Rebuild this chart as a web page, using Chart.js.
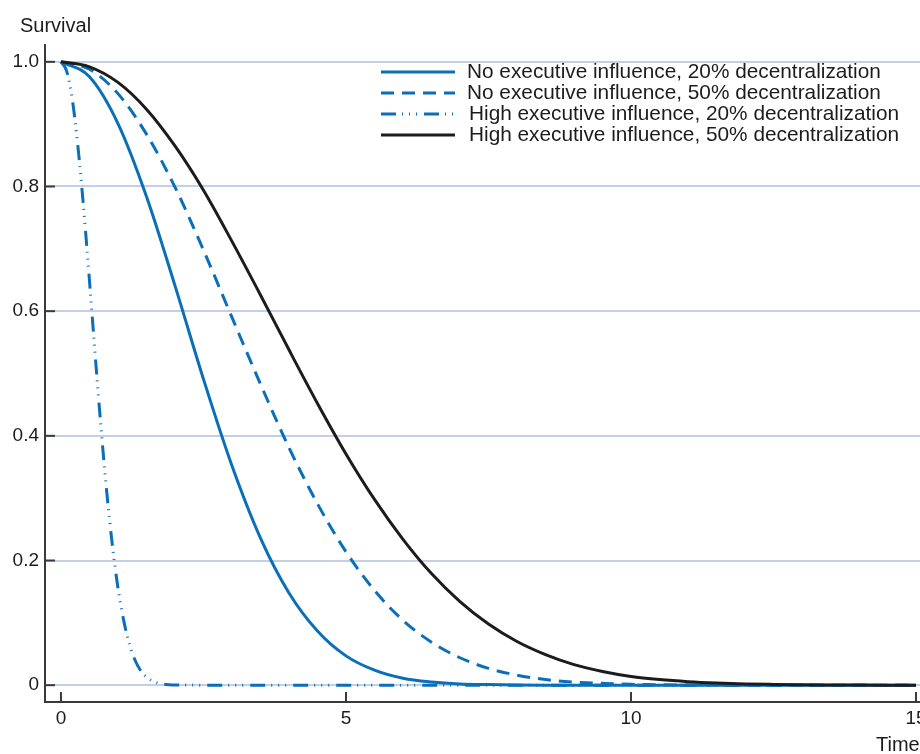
<!DOCTYPE html>
<html>
<head>
<meta charset="utf-8">
<title>Survival</title>
<script src="https://cdn.jsdelivr.net/npm/chart.js@4.4.0/dist/chart.umd.min.js"></script>
<style>
  html, body { margin: 0; padding: 0; background: #fff; }
  canvas { display: block; }
</style>
</head>
<body>
<canvas id="survival-chart" width="920" height="754"></canvas>
<script>
// time grids (years)
const timeMain = [0, 0.5, 1, 1.5, 2, 2.5, 3, 3.5, 4, 4.5, 5, 5.5, 6, 6.5, 7, 7.5, 8,
                  8.5, 9, 9.5, 10, 10.5, 11, 11.5, 12, 12.5, 13, 13.5, 14, 14.5, 15];
const timeSteep = [0, 0.1, 0.2, 0.3, 0.4, 0.5, 0.6, 0.7, 0.8, 0.9, 1, 1.1, 1.2, 1.3, 1.4,
                   1.5, 1.6, 1.7, 1.8, 1.9, 2, 3, 4, 5, 6, 7, 8, 9, 10, 11, 12, 13, 14, 15];

// survival estimates per scenario
const noExec20 = [1, 0.976, 0.901, 0.784, 0.641, 0.491, 0.352, 0.236, 0.148, 0.087, 0.047,
                  0.024, 0.011, 0.005, 0.002, 0.001, 0.0003, 0, 0, 0, 0, 0, 0, 0, 0, 0, 0, 0, 0, 0, 0];
const noExec50 = [1, 0.988, 0.949, 0.884, 0.799, 0.698, 0.590, 0.483, 0.381, 0.291, 0.214,
                  0.152, 0.104, 0.069, 0.044, 0.027, 0.016, 0.009, 0.005, 0.003, 0.0014, 0.0007,
                  0.0003, 0.0001, 0, 0, 0, 0, 0, 0, 0];
const highExec20 = [1, 0.985, 0.939, 0.862, 0.763, 0.649, 0.530, 0.416, 0.313, 0.226, 0.156,
                    0.104, 0.066, 0.040, 0.023, 0.013, 0.0069, 0.0035, 0.0017, 0.0008, 0.0003,
                    0, 0, 0, 0, 0, 0, 0, 0, 0, 0, 0, 0, 0];
const highExec50 = [1, 0.992, 0.967, 0.924, 0.865, 0.794, 0.712, 0.626, 0.538, 0.452, 0.371,
                    0.298, 0.234, 0.179, 0.134, 0.098, 0.070, 0.049, 0.033, 0.022, 0.014, 0.009,
                    0.0056, 0.0034, 0.002, 0.0012, 0.0006, 0.0003, 0.0001, 0, 0];

const seriesLabels = [
    'No executive influence, 20% decentralization',
    'No executive influence, 50% decentralization',
    'High executive influence, 20% decentralization',
    'High executive influence, 50% decentralization'
];
const xTicks = [0, 5, 10, 15];
const yTicks = [0, 0.2, 0.4, 0.6, 0.8, 1];

const FONT = "'Liberation Sans', Arial, Helvetica, sans-serif";
const BLUE = '#0a6fb8';
const INK = '#1c1c1c';
const AXIS = '#3a3a3a';

const toPoints = (xs, ys) => xs.map((x, i) => ({ x, y: ys[i] }));

// inward tick marks, axis captions and the in-plot legend
const decorations = {
    id: 'decorations',
    afterDraw(chart) {
        const ctx = chart.ctx;
        const area = chart.chartArea;
        const xs = chart.scales.x, ys = chart.scales.y;
        ctx.save();
        ctx.strokeStyle = AXIS;
        ctx.lineWidth = 2;
        yTicks.forEach(v => {
            const py = ys.getPixelForValue(v);
            ctx.beginPath(); ctx.moveTo(area.left, py); ctx.lineTo(area.left + 10, py); ctx.stroke();
        });
        xTicks.forEach(v => {
            const px = xs.getPixelForValue(v);
            ctx.beginPath(); ctx.moveTo(px, area.bottom); ctx.lineTo(px, area.bottom - 10); ctx.stroke();
        });

        ctx.fillStyle = INK;
        ctx.font = '20px ' + FONT;
        ctx.textBaseline = 'middle';
        ctx.textAlign = 'left';
        ctx.fillText('Survival', 20, 26);
        ctx.fillText('Time', 876, 745);

        // legend
        const rows = [72, 93, 114, 135];
        ctx.font = '20.8px ' + FONT;
        chart.data.datasets.forEach((ds, i) => {
            const y = rows[i];
            ctx.strokeStyle = ds.borderColor;
            ctx.lineWidth = ds.borderWidth;
            ctx.setLineDash(ds.borderDash || []);
            ctx.beginPath(); ctx.moveTo(381, y); ctx.lineTo(455, y); ctx.stroke();
            ctx.setLineDash([]);
            ctx.fillStyle = INK;
            ctx.fillText(ds.label, i < 2 ? 467 : 469, y);
        });
        ctx.restore();
    }
};

new Chart(document.getElementById('survival-chart'), {
    type: 'line',
    data: {
        datasets: [
            { label: seriesLabels[0], data: toPoints(timeMain, noExec20), borderColor: BLUE, borderWidth: 3, order: 3 },
            { label: seriesLabels[1], data: toPoints(timeMain, noExec50), borderColor: BLUE, borderWidth: 3, borderDash: [13, 8], order: 2 },
            { label: seriesLabels[2], data: toPoints(timeSteep, highExec20), borderColor: BLUE, borderWidth: 3,
              borderDash: [15, 6, 1, 6, 1, 6, 1, 7], order: 1 },
            { label: seriesLabels[3], data: toPoints(timeMain, highExec50), borderColor: INK, borderWidth: 3, order: 0 }
        ]
    },
    options: {
        responsive: false,
        animation: false,
        layout: { padding: { top: 45, right: 0, bottom: 0, left: 0 } },
        elements: {
            point: { radius: 0, hoverRadius: 0 },
            line: { cubicInterpolationMode: 'monotone', fill: false }
        },
        plugins: { legend: { display: false }, tooltip: { enabled: false } },
        scales: {
            x: {
                type: 'linear',
                min: -0.28,
                max: 15.07,
                afterBuildTicks: s => { s.ticks = xTicks.map(v => ({ value: v })); },
                afterFit: s => { s.height = 52; s.paddingLeft = 0; s.paddingRight = 0; },
                grid: { display: false, drawTicks: false },
                border: { display: true, color: AXIS, width: 2 },
                ticks: { color: INK, font: { family: FONT, size: 19 }, padding: 5, maxRotation: 0, autoSkip: false,
                         callback: v => String(v) }
            },
            y: {
                type: 'linear',
                min: -0.027,
                max: 1.027,
                afterBuildTicks: s => { s.ticks = yTicks.map(v => ({ value: v })); },
                afterFit: s => { s.width = 45; s.paddingTop = 0; s.paddingBottom = 0; },
                grid: { color: '#c3cfe8', lineWidth: 2, drawTicks: false },
                border: { display: true, color: AXIS, width: 2 },
                ticks: { color: INK, font: { family: FONT, size: 19 }, padding: 6, autoSkip: false,
                         callback: v => v === 0 ? '0' : v.toFixed(1) }
            }
        }
    },
    plugins: [decorations]
});
</script>
</body>
</html>
